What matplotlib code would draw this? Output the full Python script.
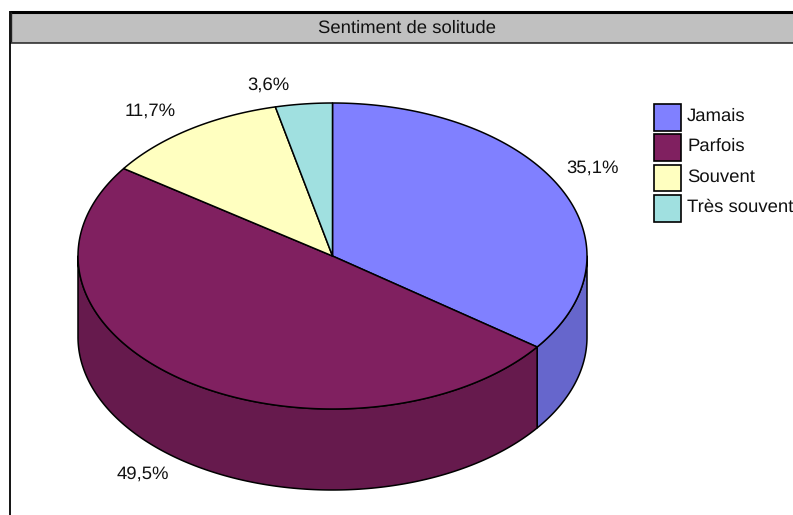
import numpy as np
import matplotlib
matplotlib.use('Agg')
import matplotlib.pyplot as plt
from matplotlib.patches import Polygon, Rectangle

plt.rcParams['font.family'] = ['Liberation Sans', 'DejaVu Sans']
plt.rcParams['text.hinting'] = 'no_hinting'
plt.rcParams['text.hinting_factor'] = 8

title = 'Sentiment de solitude'
categories = ['Jamais', 'Parfois', 'Souvent', 'Très souvent']
values = [35.1, 49.5, 11.7, 3.6]
labels = ['35,1%', '49,5%', '11,7%', '3,6%']
colors = ['#8080FF', '#802060', '#FFFFC0', '#A0E0E0']
side_colors = ['#6666CC', '#661A4D', '#CCCC9A', '#80B3B3']

label_pos = [(592.5, 168.5), (142.5, 474.5), (150, 111.5), (268.5, 85.5)]

cx, cy = 332.5, 256
rx, ry = 254.5, 153
depth = 81
text_size = 13.3
text_color = '#111111'

fig = plt.figure(figsize=(7.93, 5.15), dpi=100)
ax = fig.add_axes([0, 0, 1, 1])
ax.set_xlim(0, 793)
ax.set_ylim(515, 0)
ax.axis('off')


def arc(a0, a1, dy=0):
    """Points on the pie rim, angles clockwise from the top, in degrees."""
    n = max(int(abs(a1 - a0)) * 2, 2)
    t = np.radians(np.linspace(a0, a1, n))
    return np.column_stack([cx + rx * np.sin(t), cy - ry * np.cos(t) + dy])


# slice boundaries
edges = np.concatenate([[0], np.cumsum(values)]) / np.sum(values) * 360

# rim walls, only the front half of the pie shows
for i in range(len(values)):
    a0, a1 = max(edges[i], 90), min(edges[i + 1], 270)
    if a1 <= a0:
        continue
    top = arc(a0, a1)
    bottom = arc(a0, a1, depth)[::-1]
    ax.add_patch(Polygon(np.vstack([top, bottom]), closed=True, facecolor=side_colors[i],
                         edgecolor='black', linewidth=1.1, joinstyle='round'))

# top faces
for i in range(len(values)):
    pts = np.vstack([[[cx, cy]], arc(edges[i], edges[i + 1])])
    ax.add_patch(Polygon(pts, closed=True, facecolor=colors[i], edgecolor='black',
                         linewidth=1.1, joinstyle='round'))

for lab, (x, y) in zip(labels, label_pos):
    ax.text(x, y, lab, ha='center', va='center', fontsize=text_size, color=text_color)

# header band and frame
ax.add_patch(Rectangle((10, 12), 783, 30.5, facecolor='#C0C0C0', edgecolor='none'))
ax.plot([9.5, 793], [42.5, 42.5], color='#222222', lw=1.1, solid_capstyle='butt')
ax.plot([9.5, 793], [11.5, 11.5], color='black', lw=2.2, solid_capstyle='butt')
ax.plot([9.5, 9.5], [10.5, 515], color='black', lw=1.3, solid_capstyle='butt')
ax.plot([11, 11], [12, 42], color='#222222', lw=1, solid_capstyle='butt')
ax.text(407.5, 28.5, title, ha='center', va='center', fontsize=text_size, color=text_color)

# legend
for i, (name, c) in enumerate(zip(categories, colors)):
    y = 104 + i * 30.4
    ax.add_patch(Rectangle((654, y), 27, 26.5, facecolor=c, edgecolor='black', linewidth=1.2))
    ax.text(687, y + 12, name, ha='left', va='center', fontsize=text_size, color=text_color)

fig.savefig('out.png', dpi=100)
